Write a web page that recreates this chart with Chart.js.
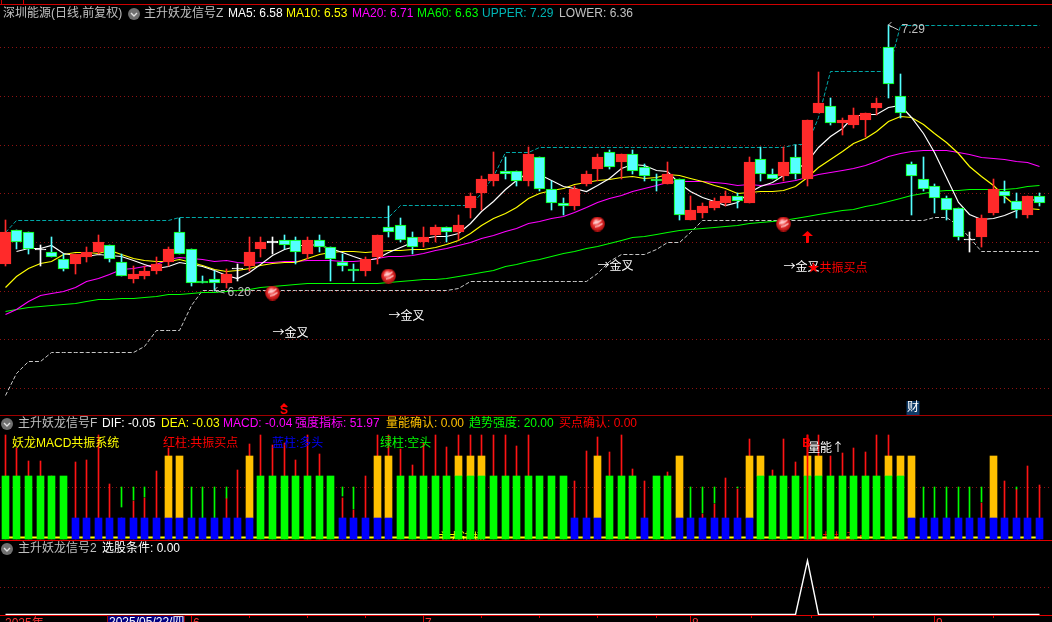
<!DOCTYPE html>
<html lang="zh"><head><meta charset="utf-8">
<style>html,body{margin:0;padding:0;background:#000;overflow:hidden}canvas{display:block}</style>
<script src="https://cdn.jsdelivr.net/npm/chart.js@4/dist/chart.umd.min.js"></script>
</head><body><canvas id="c" width="1052" height="622"></canvas>
<script>
// ---------- candles ----------
const opens =[6.31,6.45,6.44,6.37,6.36,6.33,6.31,6.34,6.36,6.39,6.32,6.25,6.26,6.28,6.32,6.44,6.37,6.24,6.25,6.23,6.29,6.30,6.37,6.40,6.41,6.41,6.35,6.41,6.38,6.32,6.29,6.28,6.34,6.46,6.47,6.42,6.40,6.43,6.46,6.44,6.54,6.60,6.65,6.69,6.69,6.65,6.75,6.62,6.56,6.55,6.64,6.70,6.77,6.73,6.76,6.71,6.66,6.64,6.66,6.49,6.52,6.54,6.56,6.59,6.56,6.74,6.68,6.67,6.75,6.66,6.93,6.96,6.89,6.88,6.90,6.95,7.20,7.00,6.72,6.66,6.63,6.58,6.54,6.41,6.42,6.52,6.61,6.57,6.51,6.59];
const highs =[6.49,6.45,6.44,6.39,6.42,6.35,6.35,6.38,6.43,6.39,6.35,6.30,6.30,6.34,6.38,6.50,6.37,6.26,6.28,6.29,6.31,6.42,6.42,6.42,6.43,6.42,6.42,6.43,6.38,6.35,6.31,6.34,6.43,6.55,6.50,6.44,6.46,6.47,6.46,6.51,6.60,6.67,6.77,6.75,6.69,6.79,6.75,6.65,6.58,6.63,6.69,6.76,6.78,6.76,6.78,6.72,6.68,6.73,6.66,6.59,6.56,6.58,6.61,6.60,6.75,6.79,6.70,6.79,6.80,6.90,7.10,6.99,6.91,6.95,6.93,6.99,7.29,7.09,6.73,6.75,6.64,6.59,6.54,6.44,6.51,6.66,6.65,6.60,6.59,6.60];
const lows  =[6.30,6.37,6.35,6.30,6.34,6.28,6.27,6.32,6.35,6.32,6.26,6.23,6.25,6.27,6.30,6.35,6.22,6.23,6.20,6.21,6.24,6.28,6.34,6.35,6.37,6.31,6.33,6.36,6.24,6.28,6.24,6.26,6.31,6.42,6.40,6.35,6.38,6.40,6.40,6.41,6.50,6.53,6.63,6.66,6.63,6.63,6.61,6.53,6.51,6.53,6.63,6.65,6.70,6.66,6.68,6.65,6.61,6.64,6.49,6.49,6.50,6.53,6.55,6.54,6.56,6.65,6.66,6.65,6.66,6.63,6.93,6.88,6.84,6.87,6.83,6.92,6.99,6.91,6.51,6.61,6.52,6.49,6.41,6.36,6.38,6.51,6.56,6.50,6.50,6.55];
const closes=[6.44,6.40,6.37,6.37,6.34,6.29,6.35,6.36,6.40,6.33,6.26,6.27,6.28,6.31,6.37,6.35,6.23,6.23,6.23,6.27,6.29,6.36,6.40,6.40,6.39,6.36,6.41,6.38,6.33,6.30,6.28,6.33,6.43,6.44,6.41,6.38,6.42,6.46,6.44,6.47,6.59,6.66,6.68,6.68,6.65,6.76,6.62,6.56,6.55,6.62,6.68,6.75,6.71,6.76,6.69,6.67,6.65,6.68,6.51,6.53,6.55,6.57,6.59,6.57,6.73,6.68,6.66,6.73,6.68,6.90,6.97,6.89,6.90,6.92,6.93,6.97,7.05,6.93,6.67,6.62,6.58,6.53,6.42,6.41,6.50,6.62,6.59,6.53,6.59,6.56];
// ---------- moving averages ----------
const ma5 =[null,6.36,6.375,6.375,6.384,6.354,6.344,6.342,6.348,6.346,6.34,6.324,6.308,6.29,6.298,6.316,6.308,6.298,6.282,6.262,6.25,6.276,6.31,6.344,6.368,6.382,6.392,6.388,6.374,6.356,6.34,6.324,6.334,6.356,6.378,6.398,6.416,6.422,6.422,6.434,6.476,6.524,6.568,6.616,6.652,6.686,6.678,6.654,6.628,6.622,6.606,6.632,6.662,6.704,6.718,6.716,6.696,6.69,6.64,6.608,6.584,6.568,6.55,6.562,6.602,6.628,6.646,6.674,6.696,6.73,6.788,6.834,6.868,6.916,6.922,6.922,6.954,6.96,6.91,6.848,6.77,6.666,6.564,6.512,6.492,6.496,6.508,6.53,6.566,6.578];
const ma10=[6.213,6.26,6.292,6.313,6.32,6.347,6.358,6.358,6.354,6.365,6.347,6.334,6.325,6.319,6.322,6.328,6.316,6.303,6.286,6.28,6.283,6.292,6.304,6.313,6.315,6.316,6.334,6.349,6.359,6.362,6.361,6.358,6.361,6.365,6.367,6.369,6.37,6.378,6.389,6.406,6.437,6.47,6.495,6.519,6.543,6.581,6.601,6.611,6.622,6.637,6.646,6.655,6.658,6.666,6.67,6.661,6.664,6.676,6.672,6.663,6.65,6.632,6.62,6.601,6.605,6.606,6.607,6.612,6.629,6.666,6.708,6.74,6.771,6.806,6.826,6.855,6.894,6.914,6.913,6.885,6.846,6.81,6.762,6.711,6.67,6.633,6.587,6.547,6.539,6.535];
const ma20=[6.103,6.125,6.155,6.179,6.19,6.197,6.213,6.238,6.251,6.268,6.286,6.292,6.30,6.31,6.329,6.338,6.333,6.327,6.322,6.323,6.315,6.313,6.315,6.316,6.319,6.322,6.325,6.326,6.323,6.321,6.322,6.325,6.333,6.339,6.341,6.343,6.352,6.364,6.374,6.384,6.399,6.414,6.428,6.442,6.455,6.475,6.486,6.495,6.506,6.522,6.542,6.563,6.577,6.593,6.607,6.621,6.633,6.644,6.647,6.65,6.648,6.644,6.639,6.634,6.638,6.634,6.636,6.644,6.651,6.665,6.679,6.686,6.696,6.704,6.716,6.731,6.751,6.763,6.771,6.776,6.777,6.775,6.767,6.759,6.748,6.744,6.741,6.731,6.726,6.71];
const ma60=[6.117,6.122,6.131,6.134,6.138,6.143,6.149,6.156,6.165,6.166,6.168,6.17,6.173,6.178,6.184,6.185,6.187,6.191,6.195,6.199,6.203,6.207,6.212,6.216,6.22,6.224,6.228,6.23,6.231,6.231,6.23,6.23,6.23,6.233,6.24,6.243,6.245,6.247,6.252,6.258,6.266,6.275,6.285,6.30,6.31,6.32,6.33,6.342,6.352,6.362,6.372,6.382,6.395,6.405,6.417,6.425,6.433,6.44,6.447,6.452,6.454,6.458,6.465,6.47,6.475,6.48,6.484,6.49,6.497,6.505,6.513,6.52,6.528,6.535,6.545,6.555,6.568,6.58,6.592,6.601,6.607,6.61,6.612,6.614,6.614,6.615,6.618,6.622,6.627,6.633];
// ---------- channel (dashed) ----------
const upper=[6.44,6.49,6.49,6.49,6.49,6.49,6.49,6.49,6.49,6.49,6.49,6.49,6.49,6.49,6.49,6.50,6.50,6.50,6.50,6.50,6.50,6.50,6.50,6.50,6.50,6.50,6.50,6.50,6.50,6.50,6.50,6.50,6.50,6.50,6.55,6.55,6.55,6.55,6.55,6.55,6.55,6.60,6.67,6.77,6.77,6.77,6.79,6.79,6.79,6.79,6.79,6.79,6.79,6.79,6.79,6.79,6.79,6.79,6.79,6.79,6.79,6.79,6.79,6.79,6.79,6.79,6.79,6.79,6.80,6.80,6.91,7.10,7.10,7.10,7.10,7.10,7.10,7.29,7.29,7.29,7.29,7.29,7.29,7.29,7.29,7.29,7.29,7.29,7.29,7.29];
const lower=[5.768,5.86,5.91,5.91,5.945,5.945,5.945,5.945,5.945,5.945,5.945,5.945,5.97,6.035,6.035,6.035,6.14,6.20,6.20,6.20,6.20,6.20,6.20,6.20,6.20,6.20,6.20,6.20,6.20,6.20,6.20,6.20,6.20,6.20,6.20,6.20,6.20,6.20,6.20,6.21,6.24,6.24,6.24,6.24,6.24,6.24,6.24,6.24,6.24,6.24,6.24,6.27,6.32,6.35,6.35,6.35,6.37,6.40,6.40,6.44,6.49,6.49,6.49,6.49,6.49,6.49,6.49,6.49,6.49,6.49,6.49,6.49,6.49,6.49,6.49,6.49,6.49,6.49,6.49,6.49,6.50,6.50,6.47,6.42,6.36,6.36,6.36,6.36,6.36,6.36];
// ---------- MACD-resonance panel ----------
const baseBar=[60,60,60,60,60,60,20,20,20,20,20,20,20,20,20,20,20,20,20,20,20,20,60,60,60,60,60,60,60,20,20,20,20,20,60,60,60,60,60,60,60,60,60,60,60,60,60,60,60,20,20,20,60,60,60,20,60,60,20,20,20,20,20,20,20,60,60,60,60,60,60,60,60,60,60,60,60,60,20,20,20,20,20,20,20,20,20,20,20,20];
const orangeIdx=[14,15,21,32,33,39,40,41,51,58,64,65,69,70,76,77,78,85];
const strength=[100,87,75,75,60,55,74,76,100,53,20,36,39,65,87,78,20,20,20,39,66,91,100,90,92,76,100,81,55,39,27,60,100,100,86,71,92,100,88,100,100,100,100,100,89,100,55,55,55,55,84,98,83,100,67,55,55,64,70,20,24,33,58,48,96,78,66,96,74,100,100,80,82,87,83,100,100,75,70,20,20,20,20,20,34,70,55,47.5,70,52];
const weakIdx=[10,11,12,16,17,18,19,29,30,59,60,61,63,79,80,81,82,83,84,87];
const weakLow=[30.7,37,40,20,20,20,39,41,28,20,25,34,48.5,20,20,20,20,20,35,48];
const buySignalIdx=[69];
const buySignalTop=[100];
const baseStrip=baseBar.map(()=>1);
// ---------- selection panel ----------
const pick=baseBar.map(()=>0); pick[69]=1;
// ---------- markers ----------
const ballIdx=[23,33,51,67];
const ballVal=[6.192,6.261,6.474,6.474];
const arrowIdx=[69];
const arrowVal=[6.42];
const crossIdx=[23,33,51,67];
const crossVal=[6.031,6.10,6.306,6.302];
const crossText='→金叉';
const gridMain=[7.2,7.0,6.8,6.6,6.4,6.2,6.0,5.8];
const weekTicks=[21,26,31,41,46,51,56,64.2,69.4,74.7,85];
const monthTicks=[16,36,59,80];
const monthLabels=['6','7','8','9'];

const RED='#FF2A2A',CY='#54FFFF',GR='#00FF00',OR='#FFC000',BL='#0000FF',GY='#C0C0C0';
const F='"Liberation Sans","Noto Sans CJK SC",sans-serif';
const FC='"Noto Sans CJK SC",sans-serif';
const headerTexts=[
 ['深圳能源(日线,前复权)',3,14,GY],['主升妖龙信号Z',144,14,GY],['MA5: 6.58',228,14,'#fff'],['MA10: 6.53',286,14,'#ff0'],
 ['MA20: 6.71',352,14,'#f0f'],['MA60: 6.63',417,14,GR],['UPPER: 7.29',482,14,'#00B4B4'],['LOWER: 6.36',559,14,GY],
 ['主升妖龙信号F',18,424,GY],['DIF: -0.05',102,424,'#fff'],['DEA: -0.03',161,424,'#ff0'],['MACD: -0.04',223,424,'#f0f'],
 ['强度指标: 51.97',295,424,'#f0f'],['量能确认: 0.00',386,424,OR],['趋势强度: 20.00',469,424,GR],['买点确认: 0.00',559,424,'#f00'],
 ['妖龙MACD共振系统',12,444,'#ff0'],['红柱:共振买点',163,444,'#f00'],['蓝柱:多头',272,444,BL],['绿柱:空头',380,444,GR],
 ['主升妖龙信号2',18,549,GY],['选股条件: 0.00',102,549,'#fff']
];
const icons=[[134,14],[7,424],[7,549]];

const idx=baseBar.map((_,i)=>i);
const pts=a=>idx.map(i=>({x:i,y:a[i]}));
const bodyColor=i=>closes[i]>opens[i]?RED:closes[i]<opens[i]?CY:'#fff';
const bodyBorder=i=>closes[i]>opens[i]?RED:closes[i]<opens[i]?GR:'#fff';

function ballImg(){const c=document.createElement('canvas');c.width=c.height=15;const g=c.getContext('2d');
 const r=g.createRadialGradient(6,5,1,7.5,7.5,7.5);r.addColorStop(0,'#ffb0b0');r.addColorStop(.5,'#e83030');r.addColorStop(1,'#a80c0c');
 g.fillStyle=r;g.beginPath();g.arc(7.5,7.5,7.4,0,7);g.fill();
 g.strokeStyle='rgba(255,235,235,.85)';g.lineWidth=1.1;g.beginPath();g.moveTo(3,7);g.quadraticCurveTo(8,6.5,11.5,3.5);g.moveTo(5,10.5);g.quadraticCurveTo(9,10,12.5,7);g.stroke();return c;}
function arrowImg(){const c=document.createElement('canvas');c.width=11;c.height=12;const g=c.getContext('2d');g.fillStyle='#f00';
 g.beginPath();g.moveTo(5.5,0);g.lineTo(11,5);g.lineTo(7,5);g.lineTo(7,12);g.lineTo(4,12);g.lineTo(4,5);g.lineTo(0,5);g.closePath();g.fill();return c;}

const line=(data,color,yAxisID,order,extra={})=>Object.assign({type:'line',data,borderColor:color,borderWidth:1.2,pointRadius:0,tension:0,yAxisID,order,spanGaps:true},extra);
const bar=(data,color,yAxisID,order,thick,extra={})=>Object.assign({type:'bar',data,backgroundColor:color,yAxisID,order,barThickness:thick,grouped:false,borderSkipped:false,borderWidth:0},extra);

const datasets=[
 line(pts(upper),'#00A8A8','yl',30,{borderWidth:1,borderDash:[4,2]}),
 line(pts(lower),'#C8C8C8','yl',30,{borderWidth:1,borderDash:[4,2]}),
 line(pts(ma60),GR,'yl',23),
 line(pts(ma20),'#FF00FF','yl',22),
 line(pts(ma10),'#FFFF00','yl',21),
 line(pts(ma5),'#FFFFFF','yl',20),
 bar(idx.map(i=>({x:i,y:[lows[i],highs[i]]})),idx.map(bodyColor),'y',12,1),
 bar(idx.map(i=>({x:i,y:opens[i]===closes[i]?[closes[i]-.0025,closes[i]+.0025]:[opens[i],closes[i]]})),idx.map(bodyColor),'y',11,11,{borderWidth:1,borderColor:idx.map(bodyBorder)}),
 {type:'line',data:ballIdx.map((x,i)=>({x,y:ballVal[i]})),showLine:false,pointStyle:ballImg(),pointRadius:7,yAxisID:'y',order:5},
 {type:'line',data:arrowIdx.map((x,i)=>({x,y:arrowVal[i]})),showLine:false,pointStyle:arrowImg(),pointRadius:6,yAxisID:'y',order:5},
 // panel 2
 line(pts(baseStrip),'#FFFF00','y2l',16,{borderWidth:2}),
 bar(idx.map(i=>({x:i,y:[0,strength[i]]})),'#FF1414','y2',14,1),
 bar(weakIdx.map((x,k)=>({x,y:[weakLow[k],50]})),GR,'y2',13,1),
 bar(idx.map(i=>({x:i,y:[0,baseBar[i]]})),idx.map(i=>baseBar[i]===20?BL:GR),'y2',10,7),
 bar(orangeIdx.map(i=>({x:i,y:[baseBar[i],80]})),OR,'y2',10,7),
 bar(buySignalIdx.map((x,k)=>({x,y:[0,buySignalTop[k]]})),'#FF0000','y2',6,1),
 // panel 3
 line(pts(pick),'#FFFFFF','y3',20,{borderWidth:1.4}),
];

function snap(fn){return s=>{if(s._snapped)return;s._snapped=true;const f=s.getPixelForValue;s.getPixelForValue=function(v,i){return fn(f.call(s,v,i));};};}
const zero=s=>{s.width=0;};
const hiddenY=(min,max,extra={})=>Object.assign({min,max,display:false},extra);
const gridY=(min,max,vals,fn)=>({min,max,display:true,position:'left',afterFit:zero,
  ticks:{display:false},border:{display:false,dash:[1,3]},grid:{color:'#8E1212',lineWidth:1,drawTicks:false},
  afterBuildTicks:s=>{s.ticks=vals.map(v=>({value:v}));},afterUpdate:snap(fn)});
const rnd=v=>Math.round(v), half=v=>Math.floor(v)+.5;
const MAIN=[4.8397,7.3943],P2=[-80.48,519.04],P3=[-0.148,11.37];

const labels={id:'labels',
 beforeDatasetsDraw(ch){const g=ch.ctx;g.save();
  g.beginPath();g.rect(0,525,1052,14.5);g.clip();g.font='12px '+F;g.textBaseline='top';
  g.fillStyle='#FFFF00';g.fillText('主力进场',437,533);
  g.fillStyle='#FF0000';g.fillText('共振买点',822,533);g.fillRect(810,538,44,2);
  g.restore();},
 afterDatasetsDraw(ch){const g=ch.ctx,X=ch.scales.x,Y=ch.scales.y;g.save();
  g.textBaseline='middle';g.font='12px '+F;
  // rules
  const rule=(y,h,c,x0=0,x1=1052)=>{g.fillStyle=c;g.fillRect(x0,y,x1-x0,h);};
  rule(4,1,'#D00000');rule(0,4,'#D00000',23,24);rule(0,4,'#D00000',1,2);
  rule(415,1,'#A00000');rule(540,1,'#E00000');rule(615,1,'#E00000');
  // bottom axis
  weekTicks.forEach(i=>rule(615,3,'#E00000',Math.floor(X.getPixelForValue(i)),Math.floor(X.getPixelForValue(i))+1));
  g.textBaseline='top';
  monthTicks.forEach((i,k)=>{const x=Math.floor(X.getPixelForValue(i));rule(615,7,'#E00000',x,x+1);g.fillStyle='#FF3232';g.fillText(monthLabels[k],x+2,618);});
  g.fillStyle='#FF3232';g.fillText('2025年',5,618);
  g.fillStyle='#000080';g.fillRect(107,615,78,7);g.strokeStyle='#A00000';g.strokeRect(107.5,615.5,77,8);
  g.fillStyle='#fff';g.fillText('2025/05/22/四',109,617);
  g.textBaseline='middle';
  // panel headers
  headerTexts.forEach(([t,x,y,c])=>{g.fillStyle=c;g.fillText(t,x,y);});
  icons.forEach(([x,y])=>{g.fillStyle='#707070';g.beginPath();g.arc(x,y,6,0,7);g.fill();g.strokeStyle='#E0E0E0';g.lineWidth=1.4;g.beginPath();g.moveTo(x-3,y-1);g.lineTo(x,y+2);g.lineTo(x+3,y-1);g.stroke();});
  // gold-cross labels
  g.font='12px '+FC;
  g.fillStyle='#fff';crossIdx.forEach((i,k)=>g.fillText(crossText,X.getPixelForValue(i),Y.getPixelForValue(crossVal[k])));
  g.fillText('量能↑',808,447);
  g.fillStyle='#FF0000';g.fillText('★共振买点',X.getPixelForValue(69),Y.getPixelForValue(6.298));
  g.font='12px '+F;
  // high / low tags
  g.fillStyle=GY;g.strokeStyle=GY;g.lineWidth=1;
  const tag=(fi,fv,ti,tv,txt)=>{const x0=X.getPixelForValue(fi),y0=Y.getPixelForValue(fv),x1=X.getPixelForValue(ti)-2,y1=Y.getPixelForValue(tv);
    g.beginPath();g.moveTo(x0,y0);g.lineTo(x1,y1);g.moveTo(x0,y0);g.lineTo(x0+3,y0-3);g.moveTo(x0,y0);g.lineTo(x0+3,y0+2);g.stroke();g.fillText(txt,x1+3,y1);};
  tag(18,6.205,19,6.19,'6.20');tag(76,7.29,77,7.27,'7.29');
  // S and 财
  const sx=X.getPixelForValue(24)-.5;
  g.fillStyle='#FF0000';g.beginPath();g.moveTo(sx,403);g.lineTo(sx+4,407);g.lineTo(sx-4,407);g.closePath();g.fill();
  g.font='bold 12px '+F;g.textAlign='center';g.fillText('S',sx,411);
  g.fillText('B',806.5,444);
  const cx=X.getPixelForValue(78)+1;
  g.fillStyle='#0E3A66';g.fillRect(cx-6,401,13,14);g.font='12px '+F;g.fillStyle='#fff';g.fillText('财',cx+.5,408);
  g.restore();}
};

new Chart(document.getElementById('c'),{type:'bar',data:{datasets},plugins:[labels],options:{
 responsive:false,maintainAspectRatio:false,animation:false,devicePixelRatio:1,events:[],
 layout:{padding:0,autoPadding:false},
 plugins:{legend:{display:false},tooltip:{enabled:false},title:{display:false}},
 scales:{
  x:{type:'linear',min:-0.4604,max:90.07,display:false,afterUpdate:snap(half),offset:false},
  y:gridY(MAIN[0],MAIN[1],gridMain,rnd),
  yl:hiddenY(MAIN[0],MAIN[1],{afterUpdate:snap(half)}),
  y2:gridY(P2[0],P2[1],[50],rnd),
  y2l:hiddenY(P2[0],P2[1],{afterUpdate:snap(half)}),
  y3:gridY(P3[0],P3[1],[0.5],half)
 }
}});
</script></body></html>
